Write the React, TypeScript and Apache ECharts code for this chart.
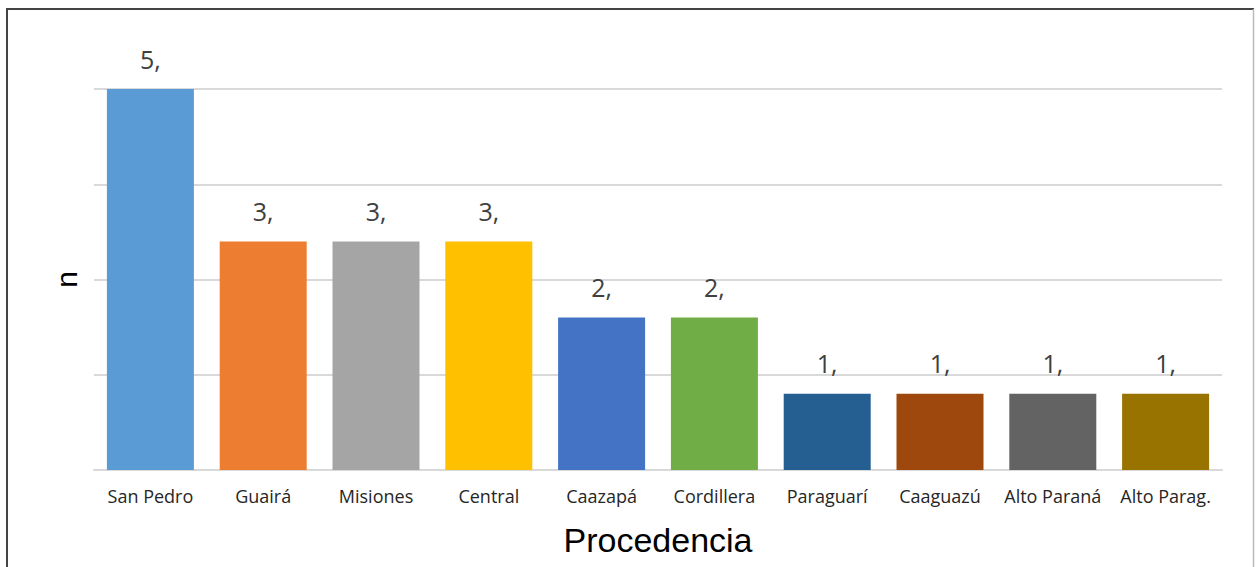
import React, { useEffect, useRef } from "react";
import * as echarts from "echarts";

const categories = ["San Pedro", "Guairá", "Misiones", "Central", "Caazapá", "Cordillera", "Paraguarí", "Caaguazú", "Alto Paraná", "Alto Parag."];
const values = [5, 3, 3, 3, 2, 2, 1, 1, 1, 1];
const colors = ["#5B9BD5", "#ED7D31", "#A5A5A5", "#FFC000", "#4472C4", "#70AD47", "#255E91", "#9E480E", "#636363", "#997300"];

export default function App() {
  const ref = useRef<HTMLDivElement>(null);
  useEffect(() => {
    const chart = echarts.init(ref.current!, null, { renderer: "svg" });
    chart.setOption({
      animation: false,
      backgroundColor: "#ffffff",
      graphic: [
        { type: "line", shape: { x1: 7, y1: 9, x2: 7, y2: 600 }, style: { stroke: "#444444", lineWidth: 2 }, silent: true },
        { type: "line", shape: { x1: 6, y1: 9, x2: 1254, y2: 9 }, style: { stroke: "#444444", lineWidth: 2 }, silent: true },
        { type: "line", shape: { x1: 1253.5, y1: 9, x2: 1253.5, y2: 600 }, style: { stroke: "#bbbbbb", lineWidth: 1.5 }, silent: true },
      ],
      grid: { left: 94, right: 35, top: 89, bottom: 97 },
      xAxis: {
        type: "category",
        data: categories,
        axisLine: { lineStyle: { color: "#d9d9d9", width: 2 } },
        axisTick: { show: false },
        axisLabel: { color: "#262626", fontSize: 18, fontFamily: "Open Sans", margin: 17, interval: 0 },
        name: "Procedencia",
        nameLocation: "middle",
        nameGap: 53,
        nameTextStyle: { fontSize: 34, color: "#000000", fontFamily: "Liberation Sans" },
      },
      yAxis: {
        type: "value",
        min: 0,
        max: 5,
        interval: 1.25,
        axisLabel: { show: false },
        axisLine: { show: false },
        axisTick: { show: false },
        splitLine: { lineStyle: { color: "#d9d9d9", width: 2 } },
        name: "n",
        nameLocation: "middle",
        nameGap: 13,
        nameRotate: 90,
        nameTextStyle: { fontSize: 30, color: "#000000", fontFamily: "Liberation Sans" },
      },
      series: [
        {
          type: "bar",
          barWidth: 87,
          data: values.map((v, i) => ({ value: v, itemStyle: { color: colors[i] } })),
          label: {
            show: true,
            position: "top",
            distance: 18,
            formatter: (p: any) => `${p.value},`,
            fontSize: 25,
            color: "#404040",
            fontFamily: "Open Sans",
          },
        },
      ],
    });
    return () => chart.dispose();
  }, []);
  return <div ref={ref} style={{ position: "absolute", left: 0, top: 0, width: 1257, height: 567 }} />;
}
